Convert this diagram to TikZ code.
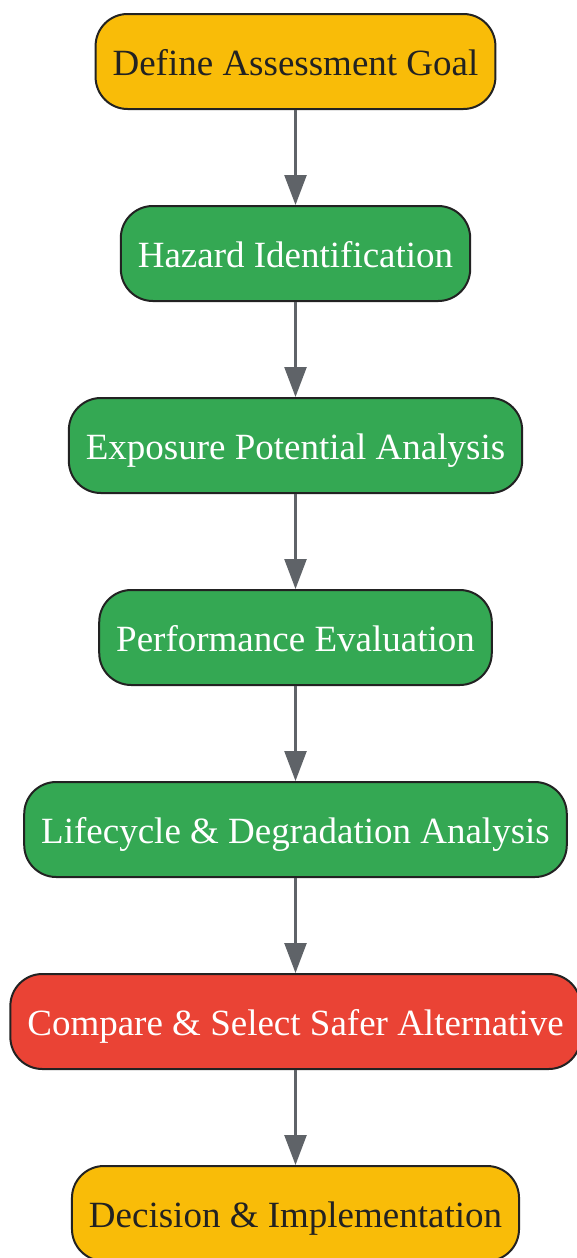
\documentclass[tikz,border=0pt]{standalone}
\usepackage{fontspec}
\setmainfont{Liberation Serif}
\usetikzlibrary{positioning,arrows.meta}
\definecolor{goalyellow}{HTML}{F9BC08}
\definecolor{workgreen}{HTML}{34A853}
\definecolor{pickred}{HTML}{EA4335}
\definecolor{boxline}{HTML}{222222}
\definecolor{arrowgray}{HTML}{5F6368}
\begin{document}
\begin{tikzpicture}[x=1pt,y=1pt,node distance=95pt,
	stepbox/.style={draw=boxline, line width=2pt, rounded corners=32pt,
		minimum height=95pt, inner xsep=17pt, text height=33pt, text depth=6pt,
		font=\fontsize{37}{44}\selectfont},
	goal/.style={stepbox, fill=goalyellow, text=boxline},
	work/.style={stepbox, fill=workgreen, text=white},
	pick/.style={stepbox, fill=pickred, text=white},
	flow/.style={draw=arrowgray, line width=2.5pt, -{Triangle[width=22pt,length=30pt]}}]
\useasboundingbox (0,0) rectangle (577,-1258);

\node[goal] (1) at (295.5,-61.5) {Define Assessment Goal};
\node[work, below=of 1] (2) {Hazard Identification};
\node[work, below=of 2] (3) {Exposure Potential Analysis};
\node[work, below=of 3] (4) {Performance Evaluation};
\node[work, below=of 4] (5) {Lifecycle \& Degradation Analysis};
\node[pick, below=of 5] (6) {Compare \& Select Safer Alternative};
\node[goal, below=of 6] (7) {Decision \& Implementation};

\foreach \a/\b in {1/2,2/3,3/4,4/5,5/6,6/7}
	\draw[flow] (\a) -- (\b);
\end{tikzpicture}
\end{document}
